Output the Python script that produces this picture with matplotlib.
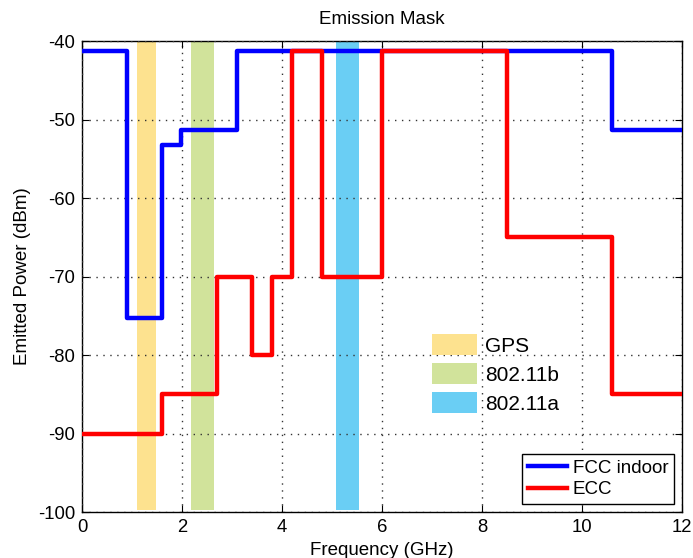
import numpy as np
import matplotlib.pyplot as plt
from matplotlib.patches import Patch

plt.rcParams['font.family'] = ['Liberation Sans', 'DejaVu Sans']
plt.rcParams['axes.unicode_minus'] = False

# FCC indoor mask: band edges (GHz) and level in each band (dBm)
fcc_edges = [0, 0.9, 1.61, 1.99, 3.1, 10.6, 12]
fcc_levels = [-41.3, -75.3, -53.3, -51.3, -41.3, -51.3]

# ECC mask
ecc_edges = [0, 1.6, 2.7, 3.4, 3.8, 4.2, 4.8, 6, 8.5, 10.6, 12]
ecc_levels = [-90, -85, -70, -80, -70, -41.3, -70, -41.3, -65, -85]

# existing services
band_names = ['GPS', '802.11b', '802.11a']
band_lo = [1.1, 2.18, 5.08]
band_hi = [1.48, 2.64, 5.54]
band_colors = ['#fde28f', '#d1e39b', '#6acef4']

fig = plt.figure(figsize=(6.93, 5.58), dpi=100)
ax = fig.add_axes([0.1183, 0.0824, 0.8657, 0.8441])

for lo, hi, c in zip(band_lo, band_hi, band_colors):
    ax.axvspan(lo, hi, ymin=0.004, ymax=0.997, color=c, lw=0, zorder=0)

ax.step(fcc_edges, fcc_levels + [fcc_levels[-1]], where='post',
        color='#0000ff', lw=3.2, label='FCC indoor', zorder=3)
ax.step(ecc_edges, ecc_levels + [ecc_levels[-1]], where='post',
        color='#ff0000', lw=3.2, label='ECC', zorder=4)

ax.set_xlim(0, 12)
ax.set_ylim(-100, -40)
ax.set_xticks(np.arange(0, 13, 2))
ax.set_yticks(np.arange(-100, -39, 10))
ax.tick_params(direction='in', top=True, right=True, length=5,
               labelsize=13.3, pad=5)
ax.grid(True, ls=(0, (1, 4)), color='#333333', lw=1.0)
ax.set_axisbelow(False)
for s in ax.spines.values():
    s.set_linewidth(1.0)

ax.set_title('Emission Mask', fontsize=13.5, pad=12)
ax.set_xlabel('Frequency (GHz)', fontsize=13.5, labelpad=4)
ax.set_ylabel('Emitted Power (dBm)', fontsize=13.5, labelpad=5)

line_leg = ax.legend(loc='lower right', fontsize=13.5, fancybox=False,
                     edgecolor='black', framealpha=1, borderaxespad=0.43,
                     handlelength=2.1, borderpad=0.3, labelspacing=0.25,
                     handletextpad=0.3)
line_leg.get_frame().set_linewidth(1.0)
ax.add_artist(line_leg)

band_handles = [Patch(facecolor=c, edgecolor='none') for c in band_colors]
ax.legend(band_handles, band_names, loc='upper left',
          bbox_to_anchor=(0.552, 0.418), frameon=False, fontsize=15,
          handlelength=2.15, handleheight=1.2, labelspacing=0.35,
          handletextpad=0.4)

fig.savefig('out.png', dpi=100)
